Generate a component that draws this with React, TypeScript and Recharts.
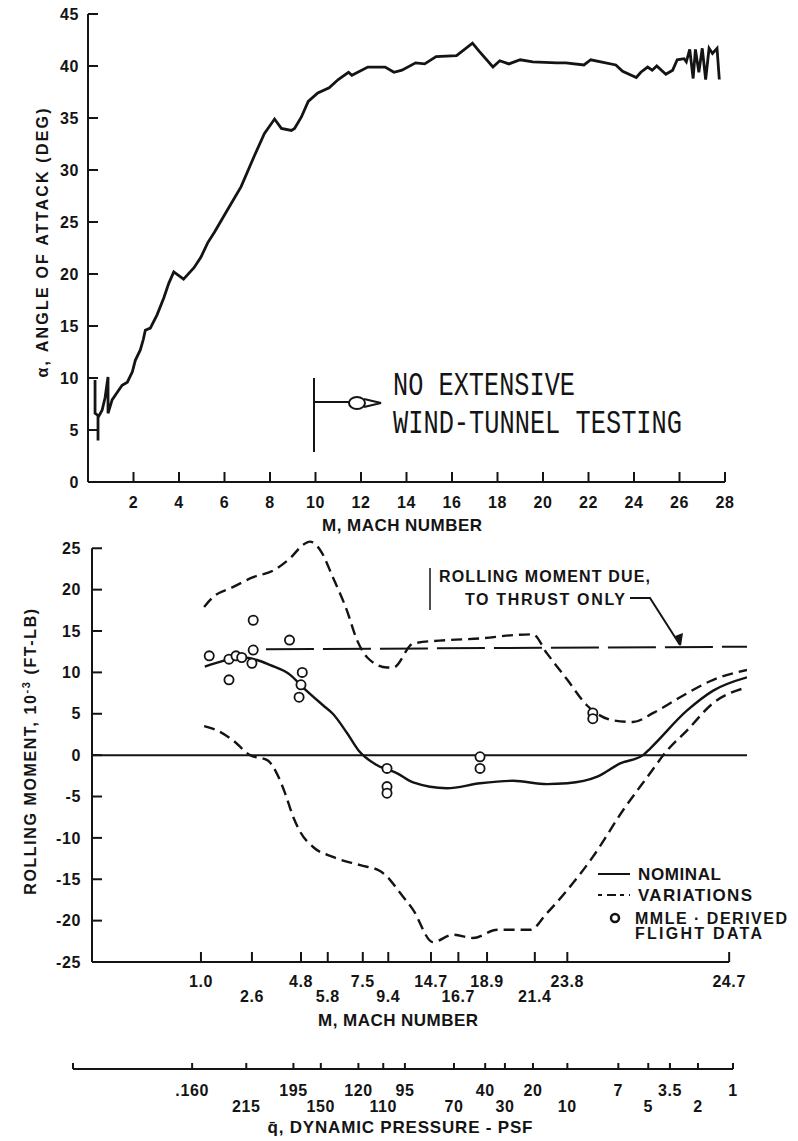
import React from 'react';
import { LineChart, ComposedChart, Line, Scatter, XAxis, YAxis, ReferenceLine } from 'recharts';

// ---------- TOP CHART: angle of attack vs Mach ----------
const topMach = [0.31,0.31,0.44,0.44,0.44,0.62,0.75,0.88,0.88,1.06,1.28,1.5,1.73,1.95,2.08,2.3,2.43,2.52,2.74,3.04,3.33,3.55,3.77,4.2,4.66,4.96,5.26,5.55,6.14,6.73,7.3,7.75,8.2,8.5,8.94,9.08,9.38,9.68,10.1,10.6,11.0,11.45,11.6,12.3,13.06,13.45,13.8,14.4,14.8,15.3,16.2,16.9,17.2,17.8,18.1,18.5,19.0,19.55,20.6,21.0,21.8,22.1,23.2,23.5,24.1,24.3,24.6,24.8,25.0,25.4,25.7,25.9,26.2,26.3,26.45,26.6,26.7,26.85,27.0,27.15,27.3,27.45,27.65,27.75];
const topAlpha = [9.8,6.6,6.4,4.0,6.2,6.9,8.1,10.1,6.6,7.9,8.6,9.3,9.6,10.6,11.7,12.7,13.7,14.6,14.8,16.1,17.7,19.1,20.2,19.5,20.6,21.6,23.0,24.0,26.2,28.4,31.3,33.5,34.9,34.0,33.8,34.0,35.1,36.6,37.4,37.9,38.7,39.4,39.1,39.9,39.9,39.4,39.6,40.3,40.2,40.9,41.0,42.2,41.4,39.9,40.5,40.2,40.6,40.4,40.3,40.3,40.1,40.6,40.1,39.5,38.9,39.4,39.9,39.6,40.0,39.2,39.6,40.6,40.7,40.4,41.6,38.8,41.6,39.4,41.7,38.7,41.7,41.2,41.7,38.7];
const alphaTicks = [0,5,10,15,20,25,30,35,40,45];
const machTopTicks = [2,4,6,8,10,12,14,16,18,20,22,24,26,28];

// ---------- BOTTOM CHART: rolling moment along the trajectory ----------
// x = trajectory index (0..102.8), labelled with Mach number / dynamic pressure
const trajTicks = [17.1,25.1,32.8,37.0,42.5,46.5,53.2,57.5,62.0,69.5,74.6,100];
const machTickLabels = ['1.0','2.6','4.8','5.8','7.5','9.4','14.7','16.7','18.9','21.4','23.8','24.7'];
const machTickRow = [0,1,0,1,0,1,0,1,0,1,0,0];
const momentTicks = [-25,-20,-15,-10,-5,0,5,10,15,20,25];

const nomIdx = [17.7,20.6,23.7,25.9,27.9,31.1,33.1,36.3,37.8,40.0,41.8,44.7,47.9,50.4,55.7,60.9,66.1,71.4,74.6,79.3,82.9,86.5,87.6,93.4,97.5,102.8];
const nomVal = [10.7,11.4,11.8,11.5,10.9,9.7,8.2,6.0,5.0,2.7,0.6,-1.2,-2.2,-3.3,-4.0,-3.4,-3.1,-3.5,-3.4,-2.6,-1.0,0.0,0.8,5.4,7.8,9.4];

const hiIdx = [17.6,19.0,22.1,25.3,28.4,31.1,33.1,34.2,35.8,37.8,40.0,41.6,43.2,46.3,47.3,50.4,55.7,60.9,66.1,69.2,71.4,74.6,77.7,81.8,84.9,88.1,92.3,97.5,102.8];
const hiVal = [17.9,19.1,20.3,21.5,22.3,23.8,25.4,25.8,24.8,21.5,17.5,13.9,11.8,10.6,10.6,13.5,13.9,14.1,14.5,14.6,12.3,9.1,6.0,4.2,4.0,5.1,7.0,9.1,10.3];

const loIdx = [17.6,19.6,22.1,24.8,27.5,29.0,30.3,31.6,32.7,34.7,37.8,42.1,45.2,46.8,47.9,50.4,53.5,56.7,59.8,63.6,68.8,71.4,74.6,78.6,83.4,87.1,90.2,93.4,97.5,102.8];
const loVal = [3.5,3.0,1.8,0.0,-0.6,-2.2,-4.6,-7.5,-9.3,-11.1,-12.3,-13.3,-14.0,-15.1,-16.2,-18.7,-22.6,-21.7,-22.1,-21.1,-21.1,-19.1,-16.3,-12.3,-6.6,-2.7,0.5,3.0,6.3,8.2];

const thrustIdx = [27.3,102.8];
const thrustVal = [12.8,13.1];

const mmleIdx = [18.4,21.5,21.5,22.6,23.5,25.3,25.1,25.3,31.0,33.0,32.8,32.5,46.3,46.3,46.3,60.9,60.9,78.6,78.6];
const mmleVal = [12.0,11.6,9.1,12.0,11.8,12.7,11.1,16.3,13.9,10.0,8.5,7.0,-1.6,-3.8,-4.6,-0.2,-1.6,5.1,4.4];

// ---------- DYNAMIC PRESSURE SCALE ----------
const qTickPos = [-3.0,15.7,24.2,31.6,35.9,41.8,45.7,49.1,56.8,61.7,64.8,69.2,74.6,82.6,87.3,90.7,95.1,100.6];
const qTickLabels = ['','.160','215','195','150','120','110','95','70','40','30','20','10','7','5','3.5','2','1'];
const qTickRow = [0,0,1,0,1,0,1,0,1,0,1,0,1,0,1,0,1,0];

const pts = (xs: number[], ys: number[]) => xs.map((x, i) => ({ x, y: ys[i] }));
const topData = pts(topMach, topAlpha);
const nomData = pts(nomIdx, nomVal);
const hiData = pts(hiIdx, hiVal);
const loData = pts(loIdx, loVal);
const thrustData = pts(thrustIdx, thrustVal);
const mmleData = pts(mmleIdx, mmleVal);

const SANS = "'Liberation Sans', Arial, Helvetica, sans-serif";
const MONO = "'Liberation Mono', 'DejaVu Sans Mono', monospace";
const INK = '#141414';
const numStyle = { fontFamily: SANS, fontWeight: 700, fontSize: 16, fill: INK, letterSpacing: 0.6 } as const;
const axisStyle = { stroke: INK, strokeWidth: 2 };

const LeftTick = (gap: number) => (props: any) => {
  const { x, y, payload } = props;
  return (
    <text x={x - gap} y={y + 5.7} textAnchor="end" {...numStyle}>{String(payload.value)}</text>
  );
};

const TopXTick = (props: any) => {
  const { x, y, payload } = props;
  return <text x={x} y={y + 25.7} textAnchor="middle" {...numStyle}>{String(payload.value)}</text>;
};

const MachTick = (props: any) => {
  const { x, y, payload } = props;
  const i = trajTicks.indexOf(payload.value);
  if (i < 0) return <g />;
  const dy = machTickRow[i] ? 34 : 19;
  return <text x={x} y={y + dy + 5.7} textAnchor="middle" {...numStyle}>{machTickLabels[i]}</text>;
};

const QTick = (props: any) => {
  const { x, y, payload } = props;
  const i = qTickPos.indexOf(payload.value);
  if (i < 0 || !qTickLabels[i]) return <g />;
  const dy = qTickRow[i] ? 37 : 21;
  return <text x={x} y={y + dy + 5.7} textAnchor="middle" {...numStyle}>{qTickLabels[i]}</text>;
};

const Ring = (props: any) => (
  <circle cx={props.cx} cy={props.cy} r={4.6} fill="#fff" stroke={INK} strokeWidth={1.8} />
);

function Overlay() {
  const t = { fontFamily: SANS, fontWeight: 700, fill: INK } as const;
  return (
    <svg width={798} height={1141} style={{ position: 'absolute', left: 0, top: 0, pointerEvents: 'none' }}>
      {/* top chart titles */}
      <text transform="translate(48,243) rotate(-90)" textAnchor="middle" fontSize={16} textLength={269} lengthAdjust="spacing" {...t}>α, ANGLE OF ATTACK (DEG)</text>
      <text x={402} y={531} textAnchor="middle" fontSize={17} textLength={160} lengthAdjust="spacing" {...t}>M, MACH NUMBER</text>

      {/* wind-tunnel annotation */}
      <g stroke={INK} strokeWidth={2} fill="none">
        <line x1={314} y1={378} x2={314} y2={452} />
        <line x1={314} y1={402} x2={349} y2={402} />
        <ellipse cx={357} cy={403} rx={8} ry={6} />
        <path d="M364,399 L381,403 L364,407" />
      </g>
      <text x={393} y={395} fontFamily={MONO} fontSize={33} fill={INK} textLength={182} lengthAdjust="spacingAndGlyphs">NO EXTENSIVE</text>
      <text x={393} y={433} fontFamily={MONO} fontSize={33} fill={INK} textLength={289} lengthAdjust="spacingAndGlyphs">WIND-TUNNEL TESTING</text>

      {/* bottom chart titles */}
      <text transform="translate(36,751) rotate(-90)" textAnchor="middle" fontSize={16} letterSpacing={1.6} {...t}>
        ROLLING MOMENT, 10<tspan dy={-6} fontSize={11}>-3</tspan><tspan dy={6}> (FT-LB)</tspan>
      </text>
      <text x={398} y={1026} textAnchor="middle" fontSize={17} textLength={160} lengthAdjust="spacing" {...t}>M, MACH NUMBER</text>
      <text x={400} y={1133} textAnchor="middle" fontSize={17} textLength={265} lengthAdjust="spacing" {...t}>q̄, DYNAMIC PRESSURE - PSF</text>

      {/* thrust annotation */}
      <line x1={430} y1={568} x2={430} y2={610} stroke={INK} strokeWidth={1.5} />
      <text x={439} y={582} fontSize={16} textLength={211} lengthAdjust="spacing" {...t}>ROLLING MOMENT DUE,</text>
      <text x={465} y={605} fontSize={16} textLength={160} lengthAdjust="spacing" {...t}>TO THRUST ONLY</text>
      <path d="M630,598 L650,598 L680,645" stroke={INK} strokeWidth={2} fill="none" />
      <polygon points="675,636 683,633 681,646" fill={INK} />

      {/* legend */}
      <line x1={598} y1={874} x2={630} y2={874} stroke={INK} strokeWidth={2} />
      <text x={638} y={880} fontSize={17} textLength={83} lengthAdjust="spacing" {...t}>NOMINAL</text>
      <line x1={598} y1={895} x2={630} y2={895} stroke={INK} strokeWidth={2} strokeDasharray="4 5 9 4" />
      <text x={638} y={901} fontSize={17} textLength={114} lengthAdjust="spacing" {...t}>VARIATIONS</text>
      <circle cx={615} cy={918} r={4} fill="none" stroke={INK} strokeWidth={2.5} />
      <text x={635} y={924} fontSize={16} textLength={152} lengthAdjust="spacing" {...t}>MMLE · DERIVED</text>
      <text x={635} y={939} fontSize={16} textLength={127} lengthAdjust="spacing" {...t}>FLIGHT DATA</text>
    </svg>
  );
}

export default function App() {
  return (
    <div style={{ position: 'absolute', left: 0, top: 0, width: 798, height: 1141, background: '#fff' }}>
      <div style={{ position: 'absolute', left: 0, top: 0 }}>
        <LineChart width={798} height={540} data={topData} margin={{ top: 14, right: 73, bottom: 0, left: 0 }}>
          <XAxis type="number" dataKey="x" domain={[0, 28]} ticks={machTopTicks} interval={0} height={58}
            tickSize={-10} tickMargin={10} axisLine={axisStyle} tickLine={axisStyle} tick={TopXTick} allowDataOverflow />
          <YAxis type="number" dataKey="y" domain={[0, 45]} ticks={alphaTicks} interval={0} width={88}
            tickSize={-10} tickMargin={10} axisLine={axisStyle} tickLine={axisStyle} tick={LeftTick(9)} allowDataOverflow />
          <Line dataKey="y" type="linear" stroke={INK} strokeWidth={2.8} dot={false} isAnimationActive={false} />
        </LineChart>
      </div>

      <div style={{ position: 'absolute', left: 0, top: 530 }}>
        <ComposedChart width={798} height={530} margin={{ top: 10, right: 51, bottom: 0, left: 0 }}>
          <XAxis type="number" dataKey="x" domain={[0, 102.8]} ticks={trajTicks} interval={0} height={98}
            tickSize={-10} tickMargin={10} axisLine={false} tickLine={axisStyle} tick={MachTick} allowDataOverflow />
          <YAxis type="number" dataKey="y" domain={[-25, 26]} ticks={momentTicks} interval={0} width={92}
            tickSize={-10} tickMargin={10} axisLine={false} tickLine={axisStyle} tick={LeftTick(11)} allowDataOverflow />
          <ReferenceLine segment={[{ x: 0, y: -25 }, { x: 0, y: 25 }]} stroke={INK} strokeWidth={2} />
          <ReferenceLine y={0} stroke={INK} strokeWidth={2} />
          <ReferenceLine segment={[{ x: 0, y: -25 }, { x: 100, y: -25 }]} stroke={INK} strokeWidth={2} />
          <Line data={thrustData} dataKey="y" type="linear" stroke={INK} strokeWidth={2} strokeDasharray="48 9" dot={false} isAnimationActive={false} />
          <Line data={hiData} dataKey="y" type="monotone" stroke={INK} strokeWidth={2.4} strokeDasharray="11 6" dot={false} isAnimationActive={false} />
          <Line data={loData} dataKey="y" type="monotone" stroke={INK} strokeWidth={2.4} strokeDasharray="11 6" dot={false} isAnimationActive={false} />
          <Line data={nomData} dataKey="y" type="monotone" stroke={INK} strokeWidth={2.4} dot={false} isAnimationActive={false} />
          <Scatter data={mmleData} dataKey="y" shape={Ring} isAnimationActive={false} />
        </ComposedChart>
      </div>

      <div style={{ position: 'absolute', left: 0, top: 1040 }}>
        <LineChart width={798} height={101} margin={{ top: 0, right: 65, bottom: 0, left: 73 }}>
          <XAxis type="number" dataKey="x" domain={[-3, 100.6]} ticks={qTickPos} interval={0} height={72}
            tickSize={-6} tickMargin={6} axisLine={axisStyle} tickLine={axisStyle} tick={QTick} allowDataOverflow />
          <YAxis hide type="number" domain={[0, 1]} width={0} />
        </LineChart>
      </div>

      <Overlay />
    </div>
  );
}
